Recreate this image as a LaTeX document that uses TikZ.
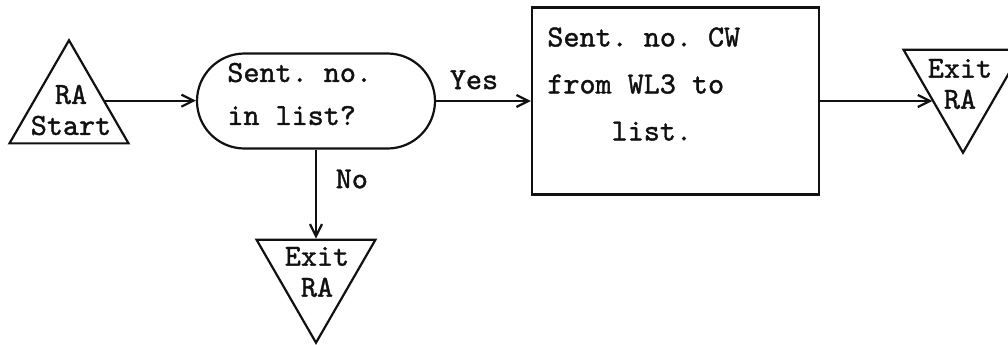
\documentclass[tikz,border=0pt]{standalone}
\usepackage{fontspec}
\setmonofont{lmmono10-regular}[Extension=.otf, FakeBold=1.3]
\usepackage{tikz}
\usetikzlibrary{
  arrows.meta,
  shapes.geometric,
  shapes.misc,
  positioning
}
\definecolor{fcInk}{HTML}{111111}

\tikzset{
  ink/.style={draw=fcInk, line width=1.1pt},
  tri/.style={ink, regular polygon, regular polygon sides=3, minimum size=68.7pt, inner sep=0pt},
  triup/.style={tri},
  tridown/.style={tri, shape border rotate=180},
  pill/.style={ink, rounded rectangle, minimum width=119pt, minimum height=47.5pt, inner sep=0pt},
  opbox/.style={ink, rectangle, minimum width=143.5pt, minimum height=93.5pt, inner sep=0pt},
  lbl/.style={text=fcInk, font=\fontsize{15.3}{15.5}\selectfont\ttfamily},
  lbltri/.style={lbl, inner sep=0pt, align=center},
  lblpill/.style={lbl, inner sep=0pt, align=left, font=\fontsize{15.3}{21.5}\selectfont\ttfamily},
  lblbox/.style={lbl, inner sep=0pt, align=left, font=\fontsize{15.3}{23.5}\selectfont\ttfamily},
  flow/.style={draw=fcInk, line width=1.1pt, -{Straight Barb[length=6pt,width=6pt]}}
}

\begin{document}
\begin{tikzpicture}[x=0.5pt, y=-0.5pt]
  \useasboundingbox (0,0) rectangle (1008,344);
  \clip (0,0) rectangle (1008,344);

  % shapes
  \node[triup] (start) at (69,109) {};
  \node[pill] (test) at (316,101) {};
  \node[opbox] (move) at (675.5,101) {};
  \foreach \nm/\x/\y in {exitno/316/274, exityes/963/84}{
    \node[tridown] (\nm) at (\x,\y) {};
  }

  % texts
  \node[lbltri] (start-txt) at (71,110) {RA\\Start};
  \node[lblpill, anchor=west] (test-txt) at (227,94) {Sent. no.\\in list?};
  \node[lblbox, anchor=west] (move-txt) at (547,84) {Sent. no. CW\\from WL3 to\\\phantom{from}list.};
  \node[lbltri] (exitno-txt) at (317,272) {Exit\\RA};
  \node[lbltri] (exityes-txt) at (960,84) {Exit\\RA};

  % connectors
  \draw[flow] (start.13) -- (start.13 -| test.west);
  \draw[flow] (test.east) -- node[lbl, above=2pt, pos=0.4] (yes) {Yes} (test.east -| move.west);
  \draw[flow] (test.south) -- node[lbl, right=6pt, pos=0.33] (no) {No} (exitno.north);
  \draw[flow] (move.east) -- (move.east -| exityes.210);
\end{tikzpicture}
\end{document}
